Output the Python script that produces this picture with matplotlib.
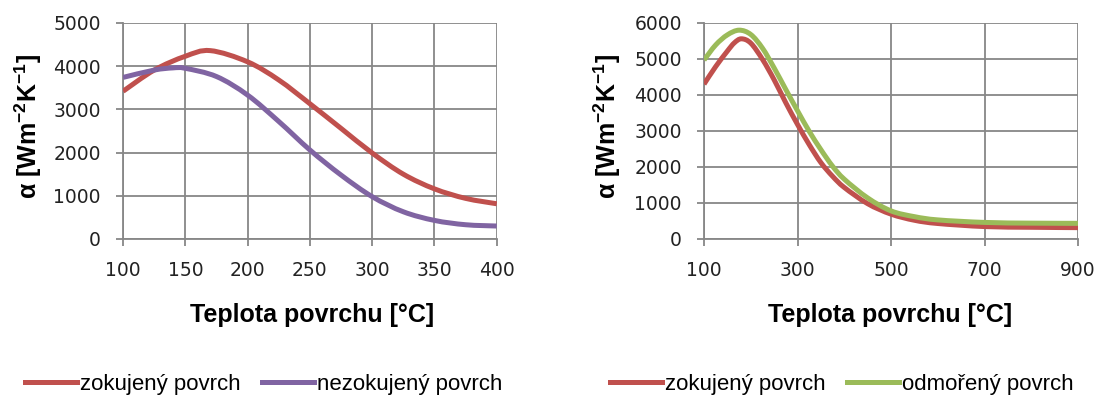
import matplotlib.pyplot as plt
import numpy as np
from matplotlib.path import Path
from matplotlib.patches import PathPatch
from matplotlib.lines import Line2D

# levy graf - odectene hodnoty
t_zok_l = [100, 125, 150, 170, 200, 225, 250, 275, 300, 325, 350, 375, 400]
a_zok_l = [3420, 3910, 4230, 4360, 4100, 3680, 3130, 2560, 1990, 1500, 1160, 940, 815]
t_nezok_l = [100, 125, 140, 150, 175, 200, 225, 250, 275, 300, 325, 350, 375, 400]
a_nezok_l = [3740, 3910, 3960, 3950, 3760, 3330, 2720, 2060, 1480, 980, 630, 430, 330, 300]

# pravy graf
t_zok_r = [100, 125, 150, 165, 180, 200, 225, 250, 275, 300, 325, 350, 375, 400, 450, 500, 550, 600, 700, 800, 900]
a_zok_r = [4300, 4790, 5220, 5450, 5560, 5440, 4990, 4420, 3780, 3180, 2620, 2120, 1740, 1430, 980, 690, 520, 430, 345, 325, 315]
t_odm_r = [100, 125, 150, 175, 200, 225, 250, 275, 300, 325, 350, 375, 400, 450, 500, 550, 600, 700, 800, 900]
a_odm_r = [4970, 5390, 5670, 5800, 5680, 5300, 4750, 4150, 3560, 2990, 2480, 2020, 1660, 1140, 780, 620, 530, 460, 440, 435]

RED = '#C0504D'
PURPLE = '#8064A2'
GREEN = '#9BBB59'
GRID = '#878787'
LW = 3.6

plt.rcParams['font.family'] = ['Liberation Sans', 'DejaVu Sans']
plt.rcParams['mathtext.default'] = 'regular'

fig = plt.figure(figsize=(10.99, 3.96), dpi=100)
ax1 = fig.add_axes([0.112, 0.3965, 0.340, 0.5455])
ax2 = fig.add_axes([0.6406, 0.3965, 0.3404, 0.5455])


def smooth_line(ax, x, y, color):
    # vyhlazena cara jako v Excelu (bezierovy segmenty pres body)
    x = np.asarray(x, float)
    y = np.asarray(y, float)
    px = np.concatenate([[x[0]], x, [x[-1]]])
    py = np.concatenate([[y[0]], y, [y[-1]]])
    verts = [(x[0], y[0])]
    codes = [Path.MOVETO]
    for i in range(1, len(px) - 2):
        c1 = (px[i] + (px[i + 1] - px[i - 1]) / 6, py[i] + (py[i + 1] - py[i - 1]) / 6)
        c2 = (px[i + 1] - (px[i + 2] - px[i]) / 6, py[i + 1] - (py[i + 2] - py[i]) / 6)
        verts += [c1, c2, (px[i + 1], py[i + 1])]
        codes += [Path.CURVE4] * 3
    ax.add_patch(PathPatch(Path(verts, codes), fill=False, edgecolor=color,
                           lw=LW, capstyle='butt', joinstyle='round', zorder=3))


def style(ax, xticks, yticks):
    ax.set_xlim(xticks[0], xticks[-1])
    ax.set_ylim(yticks[0], yticks[-1])
    ax.set_xticks(xticks)
    ax.set_yticks(yticks)
    ax.grid(True, color=GRID, linewidth=1.3)
    for s in ax.spines.values():
        s.set_visible(False)
    for s in ['left', 'bottom']:
        ax.spines[s].set_visible(True)
        ax.spines[s].set_color(GRID)
        ax.spines[s].set_linewidth(1.3)
    ax.tick_params(direction='out', length=5, width=1.3, color=GRID,
                   labelsize=13.5, labelcolor='#222222', pad=11,
                   labelfontfamily='DejaVu Sans')
    ax.set_axisbelow(True)


smooth_line(ax1, t_zok_l, a_zok_l, RED)
smooth_line(ax1, t_nezok_l, a_nezok_l, PURPLE)
style(ax1, [100, 150, 200, 250, 300, 350, 400], [0, 1000, 2000, 3000, 4000, 5000])

smooth_line(ax2, t_zok_r, a_zok_r, RED)
smooth_line(ax2, t_odm_r, a_odm_r, GREEN)
style(ax2, [100, 300, 500, 700, 900], [0, 1000, 2000, 3000, 4000, 5000, 6000])

ylab = 'α [Wm$^{-2}$K$^{-1}$]'
fig.text(0.0255, 0.68, ylab, rotation=90, ha='center', va='center',
         fontsize=18, fontweight='bold')
fig.text(0.553, 0.68, ylab, rotation=90, ha='center', va='center',
         fontsize=18, fontweight='bold')

fig.text(0.284, 0.2045, 'Teplota povrchu [°C]', ha='center', va='center',
         fontsize=18, fontweight='bold')
fig.text(0.81, 0.2045, 'Teplota povrchu [°C]', ha='center', va='center',
         fontsize=18, fontweight='bold')

leg_kw = dict(loc='center', ncol=2, frameon=False, fontsize=16, borderpad=0,
              handlelength=2.35, handletextpad=0.15, columnspacing=0.95)
h1 = [Line2D([], [], color=RED, lw=LW), Line2D([], [], color=PURPLE, lw=LW)]
fig.legend(h1, ['zokujený povrch', 'nezokujený povrch'],
           bbox_to_anchor=(0.240, 0.03), **leg_kw)
h2 = [Line2D([], [], color=RED, lw=LW), Line2D([], [], color=GREEN, lw=LW)]
fig.legend(h2, ['zokujený povrch', 'odmořený povrch'],
           bbox_to_anchor=(0.766, 0.03), **leg_kw)

fig.savefig('out.png', dpi=100)
